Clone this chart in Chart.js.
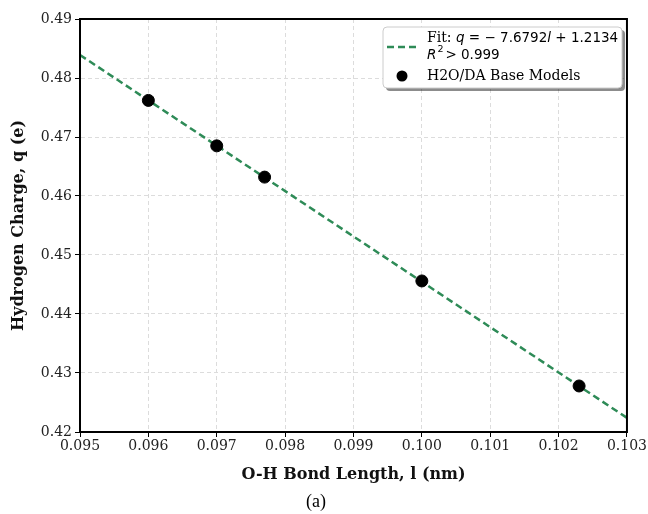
<!DOCTYPE html>
<html>
<head>
<meta charset="utf-8">
<script src="https://cdn.jsdelivr.net/npm/chart.js@4/dist/chart.umd.min.js"></script>
<style>
  html, body { margin: 0; padding: 0; background: #fff; }
  #wrap { width: 648px; height: 514px; }
</style>
</head>
<body>
<div id="wrap"><canvas id="chargeChart" width="648" height="514"></canvas></div>
<script>
// bond length (nm) and hydrogen charge (e) of the base models
const bondLength = [0.096, 0.097, 0.0977, 0.100, 0.1023];
const charge = [0.4762, 0.4685, 0.4632, 0.4456, 0.4278];
// fitted line end points, read at the axis limits
const fitX = [0.095, 0.103];
const fitY = [0.4839, 0.4224];
const xTicks = [0.095, 0.096, 0.097, 0.098, 0.099, 0.100, 0.101, 0.102, 0.103];
const yTicks = [0.42, 0.43, 0.44, 0.45, 0.46, 0.47, 0.48, 0.49];

const green = "#2e8b57";
const serif = "'DejaVu Serif', serif";

// frame, legend box and caption
const extras = {
  id: "extras",
  afterDraw(chart) {
    const c = chart.ctx;
    const a = chart.chartArea;
    c.save();
    c.strokeStyle = "#000";
    c.lineWidth = 2;
    c.strokeRect(a.left, a.top, a.right - a.left, a.bottom - a.top);

    // legend
    const lx = 383, ly = 27, lw = 239, lh = 61;
    c.fillStyle = "rgba(0,0,0,0.45)";
    roundRect(c, lx + 3, ly + 3, lw, lh, 4);
    c.fill();
    c.fillStyle = "#fff";
    c.strokeStyle = "#ccc";
    c.lineWidth = 1;
    roundRect(c, lx, ly, lw, lh, 4);
    c.fill();
    c.stroke();

    c.strokeStyle = green;
    c.lineWidth = 2.5;
    c.setLineDash([7, 4]);
    c.beginPath();
    c.moveTo(387, 47);
    c.lineTo(416, 47);
    c.stroke();
    c.setLineDash([]);

    c.fillStyle = "#000";
    c.beginPath();
    c.arc(402, 76, 5.5, 0, Math.PI * 2);
    c.fill();

    c.textBaseline = "middle";
    c.textAlign = "left";
    const sans = "13.5px 'DejaVu Sans', sans-serif";
    const sansIt = "italic 13.5px 'DejaVu Sans', sans-serif";
    let x = 427;
    const parts = [
      ["Fit: ", "14px " + serif],
      ["q", sansIt],
      [" = \u2212 7.6792", sans],
      ["l", sansIt],
      [" + 1.2134", sans]
    ];
    parts.forEach(function (p) {
      c.font = p[1];
      c.fillText(p[0], x, 38);
      x += c.measureText(p[0]).width;
    });
    x = 427;
    c.font = sansIt;
    c.fillText("R", x, 55);
    x += c.measureText("R").width + 1;
    c.font = "9.5px 'DejaVu Sans', sans-serif";
    c.fillText("2", x, 50);
    x += c.measureText("2").width + 2;
    c.font = sans;
    c.fillText("> 0.999", x, 55);

    c.font = "14px " + serif;
    c.fillText("H2O/DA Base Models", 427, 76);

    c.textAlign = "center";
    c.font = "18px 'Liberation Serif', serif";
    c.fillText("(a)", 316, 502);
    c.restore();
  }
};

function roundRect(c, x, y, w, h, r) {
  c.beginPath();
  c.moveTo(x + r, y);
  c.lineTo(x + w - r, y);
  c.quadraticCurveTo(x + w, y, x + w, y + r);
  c.lineTo(x + w, y + h - r);
  c.quadraticCurveTo(x + w, y + h, x + w - r, y + h);
  c.lineTo(x + r, y + h);
  c.quadraticCurveTo(x, y + h, x, y + h - r);
  c.lineTo(x, y + r);
  c.quadraticCurveTo(x, y, x + r, y);
  c.closePath();
}

const ctx = document.getElementById("chargeChart").getContext("2d");
new Chart(ctx, {
  type: "scatter",
  data: {
    datasets: [
      {
        label: "Fit",
        type: "line",
        data: fitX.map(function (v, i) { return { x: v, y: fitY[i] }; }),
        borderColor: green,
        borderWidth: 2.5,
        borderDash: [7, 4],
        pointRadius: 0,
        fill: false,
        order: 2
      },
      {
        label: "H2O/DA Base Models",
        data: bondLength.map(function (v, i) { return { x: v, y: charge[i] }; }),
        backgroundColor: "#000",
        borderColor: "#000",
        pointRadius: 6,
        order: 1
      }
    ]
  },
  options: {
    responsive: false,
    animation: false,
    layout: { padding: { top: 19, right: 20, left: 9, bottom: 30 } },
    plugins: {
      legend: { display: false },
      tooltip: { enabled: false }
    },
    scales: {
      x: {
        type: "linear",
        min: 0.095,
        max: 0.103,
        afterBuildTicks(axis) { axis.ticks = xTicks.map(function (v) { return { value: v }; }); },
        afterFit(axis) { axis.height = 52; },
        ticks: {
          color: "#222",
          font: { family: serif, size: 14 },
          padding: 1,
          maxRotation: 0,
          callback: function (v) { return v.toFixed(3); }
        },
        grid: {
          color: "#dcdcdc",
          tickColor: "#000",
          tickLength: 5,
          tickBorderDash: [],
          lineWidth: 1
        },
        border: { display: true, color: "#000", width: 2, dash: [4, 3] },
        title: {
          display: true,
          text: "O-H Bond Length, l (nm)",
          color: "#111",
          font: { family: serif, size: 16, weight: "bold" },
          padding: { top: 0, bottom: 0 }
        }
      },
      y: {
        type: "linear",
        min: 0.42,
        max: 0.49,
        afterBuildTicks(axis) { axis.ticks = yTicks.map(function (v) { return { value: v }; }); },
        afterFit(axis) { axis.width = 71; },
        ticks: {
          color: "#222",
          font: { family: serif, size: 14 },
          padding: 3,
          callback: function (v) { return v.toFixed(2); }
        },
        grid: {
          color: "#dcdcdc",
          tickColor: "#000",
          tickLength: 5,
          tickBorderDash: [],
          lineWidth: 1
        },
        border: { display: true, color: "#000", width: 2, dash: [4, 3] },
        title: {
          display: true,
          text: "Hydrogen Charge, q (e)",
          color: "#111",
          font: { family: serif, size: 16, weight: "bold" },
          padding: { top: 0, bottom: 0 }
        }
      }
    }
  },
  plugins: [extras]
});
</script>
</body>
</html>
